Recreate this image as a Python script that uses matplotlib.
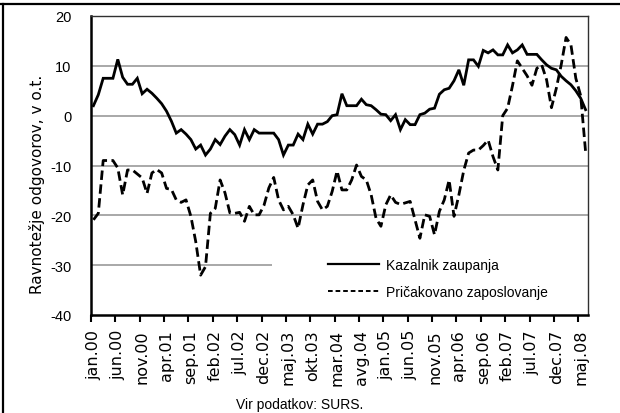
import matplotlib
matplotlib.use("Agg")
import matplotlib.pyplot as plt
from matplotlib.lines import Line2D
from matplotlib.patches import Rectangle
import numpy as np

# ---- data ----
tick_labels = ["jan.00", "jun.00", "nov.00", "apr.01", "sep.01", "feb.02", "jul.02",
               "dec.02", "maj.03", "okt.03", "mar.04", "avg.04", "jan.05", "jun.05",
               "nov.05", "apr.06", "sep.06", "feb.07", "jul.07", "dec.07", "maj.08"]

kazalnik_zaupanja = [
    2, 4.2, 7.5, 7.5, 7.5, 11.3, 7.7, 6.3, 6.3, 7.5,
    4.4, 5.3, 4.5, 3.5, 2.4, 0.9, -1.1, -3.5, -2.8, -3.7,
    -4.8, -6.7, -5.9, -7.9, -6.7, -4.8, -5.8, -4.1, -2.8, -3.8,
    -5.9, -2.8, -4.8, -2.8, -3.5, -3.5, -3.5, -3.5, -4.8, -7.9,
    -5.9, -5.9, -3.7, -4.8, -1.7, -3.7, -1.7, -1.7, -1.2, 0,
    0.2, 4.4, 2, 2, 2, 3.3, 2.2, 2, 1.2, 0.3,
    0.2, -1, 0.2, -2.8, -0.8, -1.8, -1.8, 0.2, 0.5, 1.3,
    1.5, 4.3, 5.2, 5.5, 7, 9.2, 6.1, 11.2, 11.2, 9.9,
    13.1, 12.6, 13.2, 12.2, 12.2, 14.2, 12.6, 13.2, 14.2, 12.3,
    12.3, 12.3, 11.2, 10.2, 9.5, 9.2, 7.9, 7, 6.2, 5,
    3.5, 1.2]

pricakovano_zaposlovanje = [
    -20.9, -19.6, -9, -9, -9, -10.5, -15.9, -10.9, -10.9, -11.7,
    -12.5, -15.6, -11.5, -10.8, -11.5, -14.6, -14.8, -16.9, -17.4, -16.9,
    -20.2, -25.3, -32, -30.3, -19.6, -18.6, -12.9, -15.5, -19.5, -19.6,
    -19.4, -21.2, -18.2, -19.9, -19.9, -18, -14.5, -12.4, -16.9, -18.9,
    -18.2, -19.9, -22.6, -17.9, -13.9, -12.9, -17.2, -18.9, -18.2, -15.2,
    -11.1, -14.9, -14.9, -12.9, -9.9, -12.2, -12.9, -15.9, -20.6, -22.2,
    -17.9, -15.9, -17.4, -17.8, -17.5, -17.2, -20.9, -24.6, -19.9, -20.2,
    -23.9, -19.2, -16.9, -12.9, -20.2, -15.9, -11, -7.5, -6.9, -6.9,
    -6, -4.9, -8.2, -10.9, 0, 1.5, 6, 11, 9.5, 8,
    6.1, 9.5, 10.2, 7.2, 1.6, 5.5, 10.2, 15.7, 14.2, 7.5,
    4, -7.2]

series_labels = ["Kazalnik zaupanja", "Pričakovano zaposlovanje"]
y_ticks = [20, 10, 0, -10, -20, -30, -40]
label_step = 5

# ---- figure ----
W, H = 620, 414
fig = plt.figure(figsize=(W / 100, H / 100), dpi=100)
fig.patch.set_facecolor("white")

L, R, T, B = 91, 588, 17, 316
ax = fig.add_axes([L / W, 1 - B / H, (R - L) / W, (B - T) / H])

n = len(kazalnik_zaupanja)
x = np.arange(n)

ax.set_xlim(-0.5, n - 0.5)
ax.set_ylim(-40, 20)

# gridlines
for yv in y_ticks:
    if yv not in (20, -40):
        ax.axhline(yv, color="#9a9a9a", lw=1.2, zorder=0.5)

# white legend backdrop covering grid
ax.add_patch(Rectangle((0.364, 0.035), 0.64, 0.19, transform=ax.transAxes,
                       facecolor="white", edgecolor="none", zorder=1))

ax.plot(x, kazalnik_zaupanja, color="black", lw=2.0, zorder=3,
        solid_joinstyle="miter")
ax.plot(x, pricakovano_zaposlovanje, color="black", lw=2.0, zorder=3,
        linestyle=(0, (3.4, 1.6)))

# y axis
ax.set_yticks(y_ticks)
ax.set_yticklabels([str(v) for v in y_ticks], fontsize=10.5,
                   fontfamily="Liberation Sans")
ax.tick_params(axis="y", length=0, pad=14)

# x axis: labels at category centers, tick marks at boundaries
centers = np.arange(0, n, label_step)[:len(tick_labels)]
ax.set_xticks(centers)
ax.set_xticklabels(tick_labels, rotation=90, fontsize=11.5,
                   fontfamily="DejaVu Sans", va="top", ha="center")
ax.tick_params(axis="x", length=0, pad=10)
bounds = np.arange(0, n, label_step) - 0.5
ax.set_xticks(bounds[:len(tick_labels)], minor=True)
ax.tick_params(axis="x", which="minor", length=5, width=1.5, direction="out",
               color="black")

for s in ("left", "bottom"):
    ax.spines[s].set_linewidth(1.8)
    ax.spines[s].set_color("black")
for s in ("top", "right"):
    ax.spines[s].set_linewidth(1.0)
    ax.spines[s].set_color("#303030")

# legend
handles = [Line2D([], [], color="black", lw=1.6),
           Line2D([], [], color="black", lw=1.4, linestyle=(0, (2.4, 1.5)))]
leg = fig.legend(handles, series_labels, loc="center left",
                 bbox_to_anchor=(321 / W, 1 - 279.5 / H),
                 frameon=False, borderpad=0, handlelength=3.7,
                 handletextpad=0.45, labelspacing=0.95,
                 prop={"family": "Liberation Sans", "size": 10})

# axis title and source
fig.text(37 / W, 1 - 184 / H, "Ravnotežje odgovorov, v o.t.", rotation=90,
         ha="center", va="center", fontsize=11, fontfamily="DejaVu Sans")
fig.text(300 / W, 1 - 405 / H, "Vir podatkov: SURS.", ha="center", va="center",
         fontsize=10, fontfamily="Liberation Sans")

# frame lines of the surrounding box
fig.add_artist(Line2D([0, 1], [1 - 4.5 / H, 1 - 4.5 / H], transform=fig.transFigure,
                      color="black", lw=1.6))
fig.add_artist(Line2D([2.5 / W, 2.5 / W], [0, 1 - 4.5 / H], transform=fig.transFigure,
                      color="black", lw=1.6))

fig.savefig("out.png", dpi=100)
